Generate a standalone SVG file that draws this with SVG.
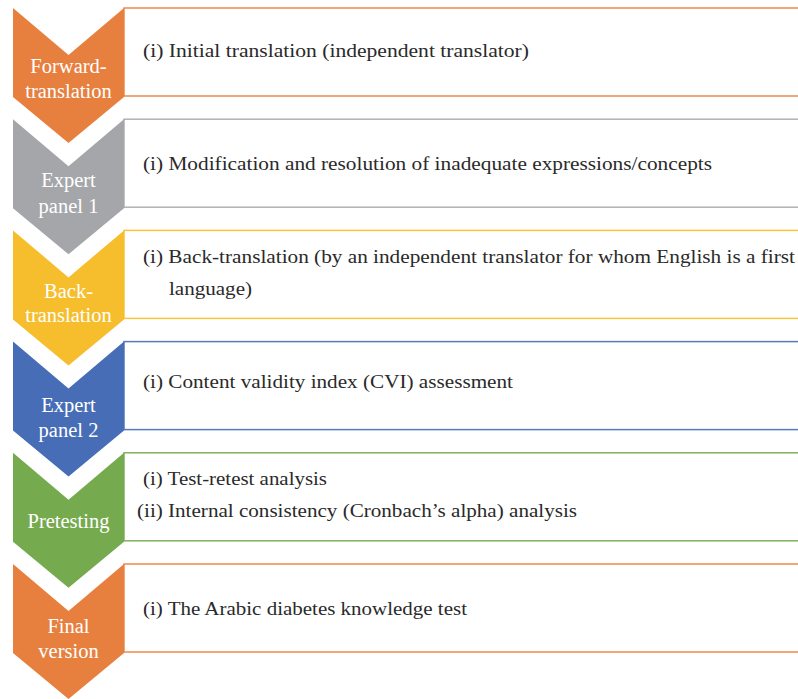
<svg xmlns="http://www.w3.org/2000/svg" width="798" height="699" viewBox="0 0 798 699">
<style>
.chev-text{font-family:'Liberation Serif','DejaVu Serif',serif;font-size:20.5px;fill:#ffffff;text-anchor:middle}
.box-text{font-family:'Liberation Serif','DejaVu Serif',serif;font-size:19px;fill:#2a2a2a}
.box{fill:#ffffff;stroke-width:1.5}
</style>
<defs>
<polygon id="chev" points="13,0 68.5,47 124,0 124,89 68.5,135 13,89"/>
</defs>
<rect x="0" y="0" width="798" height="699" fill="#ffffff"/>

<g id="step1">
<rect class="box" x="124" y="8" width="680" height="88" stroke="#EE8A4C"/>
<use href="#chev" x="0" y="8" fill="#E7803F"/>
<text class="chev-text" x="68.5" y="73">Forward-</text>
<text class="chev-text" x="68.5" y="98">translation</text>
<text class="box-text" x="143" y="57" textLength="386" lengthAdjust="spacingAndGlyphs">(i) Initial translation (independent translator)</text>
</g>

<g id="step2">
<rect class="box" x="124" y="119.2" width="680" height="88" stroke="#B0B1B3"/>
<use href="#chev" x="0" y="119.2" fill="#A5A6A9"/>
<text class="chev-text" x="68.5" y="187">Expert</text>
<text class="chev-text" x="68.5" y="213">panel 1</text>
<text class="box-text" x="143" y="170" textLength="569" lengthAdjust="spacingAndGlyphs">(i) Modification and resolution of inadequate expressions/concepts</text>
</g>

<g id="step3">
<rect class="box" x="124" y="230.4" width="680" height="88" stroke="#F8C53E"/>
<use href="#chev" x="0" y="230.4" fill="#F6BE2C"/>
<text class="chev-text" x="68.5" y="298">Back-</text>
<text class="chev-text" x="68.5" y="322">translation</text>
<text class="box-text" x="143" y="263" textLength="652" lengthAdjust="spacingAndGlyphs">(i) Back-translation (by an independent translator for whom English is a first</text>
<text class="box-text" x="169" y="295" textLength="83" lengthAdjust="spacingAndGlyphs">language)</text>
</g>

<g id="step4">
<rect class="box" x="124" y="341.6" width="680" height="88" stroke="#5578BE"/>
<use href="#chev" x="0" y="341.6" fill="#476DB6"/>
<text class="chev-text" x="68.5" y="412">Expert</text>
<text class="chev-text" x="68.5" y="437">panel 2</text>
<text class="box-text" x="143" y="388" textLength="370" lengthAdjust="spacingAndGlyphs">(i) Content validity index (CVI) assessment</text>
</g>

<g id="step5">
<rect class="box" x="124" y="452.8" width="680" height="88" stroke="#80B25B"/>
<use href="#chev" x="0" y="452.8" fill="#76AA4F"/>
<text class="chev-text" x="68.5" y="528">Pretesting</text>
<text class="box-text" x="143" y="485" textLength="184" lengthAdjust="spacingAndGlyphs">(i) Test-retest analysis</text>
<text class="box-text" x="137" y="517" textLength="440" lengthAdjust="spacingAndGlyphs">(ii) Internal consistency (Cronbach’s alpha) analysis</text>
</g>

<g id="step6">
<rect class="box" x="124" y="564" width="680" height="88" stroke="#EE8A4C"/>
<use href="#chev" x="0" y="564" fill="#E7803F"/>
<text class="chev-text" x="68.5" y="633">Final</text>
<text class="chev-text" x="68.5" y="658">version</text>
<text class="box-text" x="143" y="615" textLength="324" lengthAdjust="spacingAndGlyphs">(i) The Arabic diabetes knowledge test</text>
</g>

<g id="connectors"></g>
</svg>
